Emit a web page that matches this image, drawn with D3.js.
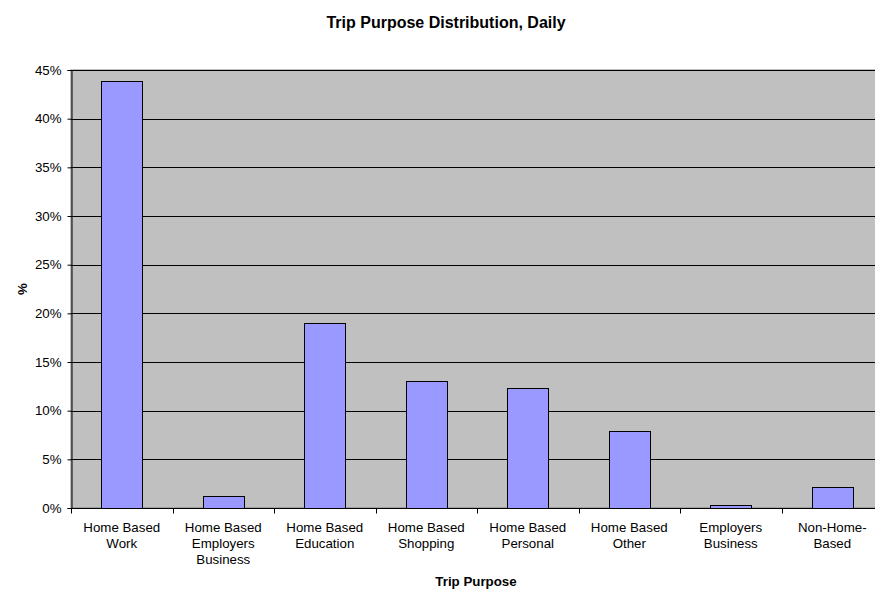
<!DOCTYPE html>
<html>
<head>
<meta charset="utf-8">
<script src="https://cdn.jsdelivr.net/npm/d3@7"></script>
<style>
  body { margin: 0; background: #fff; }
  text { font-family: Arial, "Liberation Sans", sans-serif; fill: #000; }
</style>
</head>
<body>
<div id="chart"></div>
<script>
// chart data
var categories = [
  ["Home Based", "Work"],
  ["Home Based", "Employers", "Business"],
  ["Home Based", "Education"],
  ["Home Based", "Shopping"],
  ["Home Based", "Personal"],
  ["Home Based", "Other"],
  ["Employers", "Business"],
  ["Non-Home-", "Based"]
];
var values = [43.9, 1.2, 19.0, 13.0, 12.3, 7.9, 0.3, 2.2];
var yTicks = [0, 5, 10, 15, 20, 25, 30, 35, 40, 45];

var W = 875, H = 591;
var margin = {top: 70, right: -8, bottom: 83, left: 71};
var width = W - margin.left - margin.right,
    height = H - margin.top - margin.bottom;

var svg = d3.select("#chart").append("svg")
  .attr("width", W).attr("height", H);

var g = svg.append("g")
  .attr("transform", "translate(" + margin.left + "," + margin.top + ")");

var idx = d3.range(categories.length);
var x = d3.scaleBand().domain(idx).range([0, width]).paddingInner(0.6).paddingOuter(0.3);
var y = d3.scaleLinear().domain([0, 45]).range([height, 0]);

// plot background
g.append("rect")
  .attr("width", width).attr("height", height)
  .attr("fill", "#c0c0c0").attr("stroke", "#808080");

// gridlines
g.selectAll(".grid").data(yTicks.slice(1)).enter().append("line")
  .attr("x1", 0).attr("x2", width)
  .attr("y1", d => Math.round(y(d)) + 0.5).attr("y2", d => Math.round(y(d)) + 0.5)
  .attr("stroke", "#000").attr("stroke-width", 1);

// bars
g.selectAll(".bar").data(values).enter().append("rect")
  .attr("x", (d, i) => Math.round(x(i)) + 0.5)
  .attr("y", d => Math.round(y(d)) + 0.5)
  .attr("width", Math.round(x.bandwidth()))
  .attr("height", d => Math.round(height - y(d)))
  .attr("fill", "#9999ff")
  .attr("stroke", "#000").attr("stroke-width", 1);

// y axis
var yAxis = g.append("g")
  .attr("transform", "translate(0.5,0)")
  .call(d3.axisLeft(y).tickValues(yTicks).tickSize(4).tickPadding(6).tickFormat(d => d + "%"));
yAxis.select(".domain").attr("stroke", "#000");
yAxis.selectAll("text").style("font-size", "13.3px");

// x axis
var step = x.step();
var xAxis = g.append("g").attr("transform", "translate(0," + (height + 0.5) + ")");
xAxis.append("line").attr("x1", 0).attr("x2", width).attr("stroke", "#000");
xAxis.selectAll(".tick").data(d3.range(categories.length + 1)).enter().append("line")
  .attr("x1", d => Math.round(d * step) + 0.5).attr("x2", d => Math.round(d * step) + 0.5)
  .attr("y1", 0).attr("y2", 5).attr("stroke", "#000");

var labels = xAxis.selectAll(".lbl").data(categories).enter().append("text")
  .attr("text-anchor", "middle")
  .attr("transform", (d, i) => "translate(" + (x(i) + x.bandwidth() / 2) + ",23)")
  .style("font-size", "13.3px");
labels.selectAll("tspan").data(d => d).enter().append("tspan")
  .attr("x", 0).attr("dy", (d, i) => i === 0 ? 0 : 16)
  .text(d => d);

// titles
svg.append("text")
  .attr("x", 446).attr("y", 28)
  .attr("text-anchor", "middle")
  .style("font-size", "16px").style("font-weight", "bold")
  .text("Trip Purpose Distribution, Daily");

svg.append("text")
  .attr("x", margin.left + width / 2 - 1).attr("y", 586)
  .attr("text-anchor", "middle")
  .style("font-size", "13.3px").style("font-weight", "bold")
  .text("Trip Purpose");

svg.append("text")
  .attr("transform", "translate(27," + (margin.top + height / 2) + ") rotate(-90)")
  .attr("text-anchor", "middle")
  .style("font-size", "13.3px").style("font-weight", "bold")
  .text("%");
</script>
</body>
</html>
